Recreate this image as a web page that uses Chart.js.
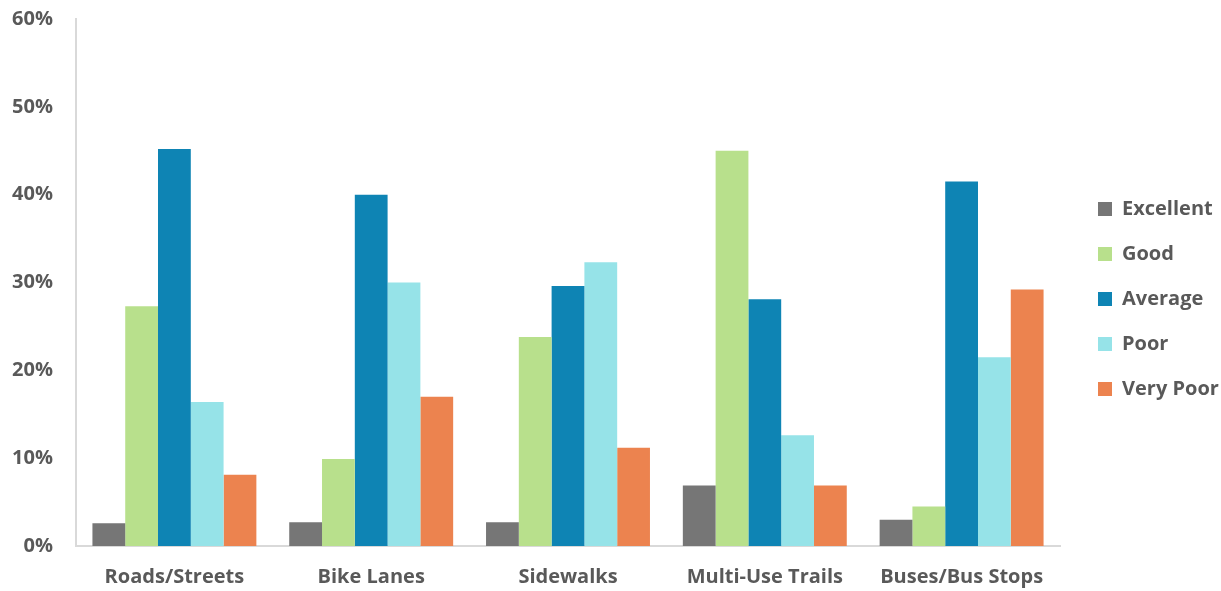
<!DOCTYPE html>
<html>
<head>
<meta charset="utf-8">
<script src="https://cdn.jsdelivr.net/npm/chart.js@4/dist/chart.umd.min.js"></script>
<style>
  html, body { margin: 0; padding: 0; background: #ffffff; }
  #wrap { width: 1221px; height: 591px; position: relative; }
</style>
</head>
<body>
<div id="wrap"><canvas id="c"></canvas></div>
<script>
const categories = ["Roads/Streets", "Bike Lanes", "Sidewalks", "Multi-Use Trails", "Buses/Bus Stops"];
const seriesNames = ["Excellent", "Good", "Average", "Poor", "Very Poor"];
const excellent = [2.6, 2.7, 2.7, 6.9, 3.0];
const good      = [27.3, 9.9, 23.8, 45.0, 4.5];
const average   = [45.2, 40.0, 29.6, 28.1, 41.5];
const poor      = [16.4, 30.0, 32.3, 12.6, 21.5];
const veryPoor  = [8.1, 17.0, 11.2, 6.9, 29.2];
const yTicks = [0, 10, 20, 30, 40, 50, 60];
const colors = ["#767676", "#B8E08C", "#0E84B4", "#96E3E8", "#EC834F"];

const seriesValues = [excellent, good, average, poor, veryPoor];
const FONT = "'Open Sans', Roboto, sans-serif";
const TEXT = "#595959";

// Reserve a fixed legend width, then nudge the legend block into place.
const legendPlacePlugin = {
  id: "legendPlace",
  beforeUpdate(chart) {
    const lg = chart.legend;
    if (lg && !lg._patched) {
      lg._patched = true;
      const origFit = Object.getPrototypeOf(lg).fit;
      lg.fit = function () { origFit.call(this); this.width = 161; };
    }
  },
  afterLayout(chart) {
    const lg = chart.legend;
    if (lg) {
      lg.left += 13; lg.right += 13;
      lg.top -= 6; lg.bottom -= 6;
    }
  }
};

new Chart(document.getElementById("c"), {
  type: "bar",
  data: {
    labels: categories,
    datasets: seriesNames.map((n, i) => ({
      label: n,
      data: seriesValues[i],
      backgroundColor: colors[i],
      borderWidth: 0,
      categoryPercentage: 0.833,
      barPercentage: 1.0
    }))
  },
  plugins: [legendPlacePlugin],
  options: {
    responsive: true,
    maintainAspectRatio: false,
    animation: false,
    layout: { padding: { top: 19, bottom: 0, left: 0, right: 0 } },
    plugins: {
      tooltip: { enabled: false },
      legend: {
        position: "right",
        align: "center",
        labels: {
          boxWidth: 14,
          boxHeight: 14,
          padding: 25,
          color: TEXT,
          font: { family: FONT, size: 20, weight: "bold" }
        }
      }
    },
    scales: {
      x: {
        grid: { display: false, drawTicks: false },
        border: { display: true, color: "#d9d9d9", width: 2 },
        ticks: {
          color: TEXT,
          padding: 19,
          font: { family: FONT, size: 20, weight: "bold" }
        },
        afterFit: (s) => { s.height = 45; }
      },
      y: {
        min: 0,
        max: 60,
        afterBuildTicks: (axis) => { axis.ticks = yTicks.map(v => ({ value: v })); },
        grid: { display: false, drawTicks: false },
        border: { display: true, color: "#d9d9d9", width: 2 },
        ticks: {
          color: TEXT,
          padding: 23,
          font: { family: FONT, size: 20, weight: "bold" },
          callback: (v) => v + "%"
        },
        afterFit: (s) => { s.width = 76; s.paddingTop = 0; s.paddingBottom = 0; }
      }
    }
  }
});
</script>
</body>
</html>
